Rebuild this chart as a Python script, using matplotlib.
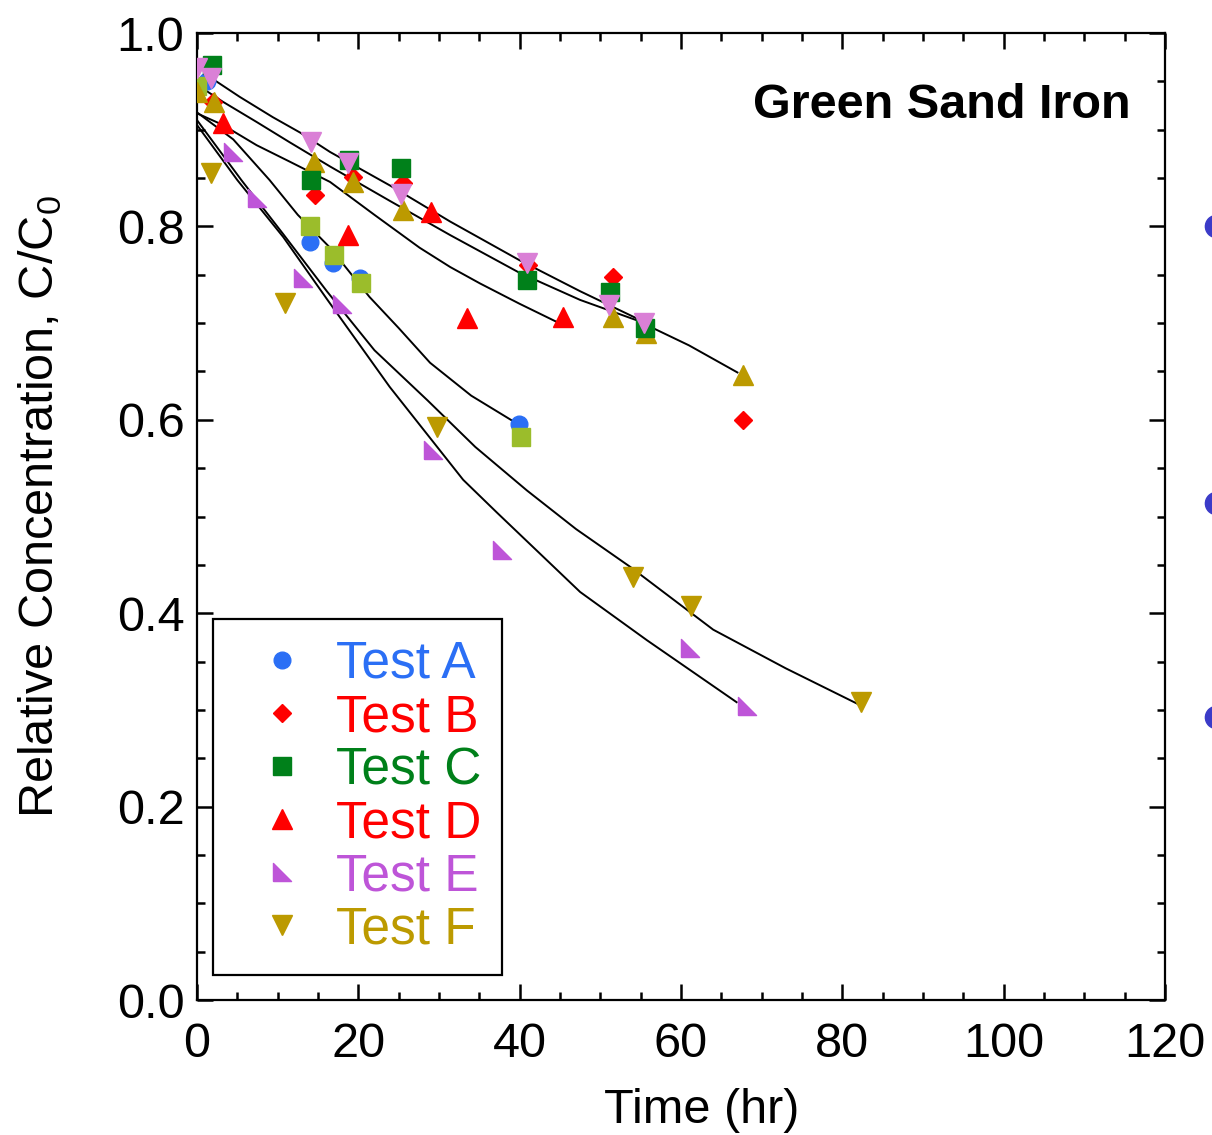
import numpy as np
import matplotlib
matplotlib.use('Agg')
import matplotlib.pyplot as plt
from matplotlib.ticker import MultipleLocator, FormatStrFormatter

plt.rcParams['font.family'] = ['Liberation Sans', 'DejaVu Sans']
plt.rcParams['mathtext.fontset'] = 'custom'
plt.rcParams['mathtext.rm'] = 'Liberation Sans'

# measured data, time (hr) vs C/C0
t_A = [1.2, 14.0, 16.9, 20.2, 39.9]
c_A = [0.950, 0.784, 0.762, 0.747, 0.596]
t_B = [2.0, 14.6, 19.3, 25.5, 41.0, 51.6, 55.6, 67.7]
c_B = [0.929, 0.832, 0.851, 0.845, 0.760, 0.748, 0.696, 0.600]
t_C = [1.9, 14.1, 18.8, 25.3, 40.9, 51.2, 55.5]
c_C = [0.967, 0.848, 0.869, 0.860, 0.745, 0.732, 0.695]
t_D = [3.2, 18.7, 29.0, 33.5, 45.4]
c_D = [0.907, 0.791, 0.815, 0.705, 0.706]
t_E = [4.5, 7.4, 13.1, 18.0, 29.3, 37.8, 61.1, 68.2]
c_E = [0.877, 0.829, 0.747, 0.720, 0.569, 0.465, 0.364, 0.304]
t_F = [1.7, 10.9, 29.7, 54.0, 61.2, 82.3]
c_F = [0.855, 0.721, 0.593, 0.437, 0.408, 0.308]

# replicate runs (no legend entry)
t_sq2 = [0.0, 14.0, 17.0, 20.3, 40.2]
c_sq2 = [0.945, 0.800, 0.770, 0.742, 0.582]
t_up2 = [0.0, 2.1, 14.5, 19.3, 25.5, 51.6, 55.7, 67.7]
c_up2 = [0.939, 0.929, 0.867, 0.846, 0.817, 0.706, 0.690, 0.646]
t_dn2 = [0.0, 1.7, 14.1, 18.7, 25.3, 40.9, 51.1, 55.4]
c_dn2 = [0.964, 0.953, 0.887, 0.866, 0.834, 0.762, 0.719, 0.700]

# points of the neighbouring panel that run past the right spine
t_edge = [126.3, 126.3, 126.3]
c_edge = [0.800, 0.514, 0.293]

# model curves
fit1_t = [1.5, 5.3, 9.4, 12.8, 16.5, 24.0, 31.4, 40.0, 47.5, 54.5]
fit1_c = [0.955, 0.934, 0.913, 0.897, 0.877, 0.842, 0.805, 0.765, 0.733, 0.705]
fit2_t = [1.2, 3.2, 7.4, 11.5, 16.5, 24.0, 31.4, 40.0, 47.5, 54.5, 61.0, 67.0]
fit2_c = [0.940, 0.929, 0.908, 0.887, 0.862, 0.826, 0.791, 0.752, 0.724, 0.703, 0.677, 0.649]
fitD_t = [0, 3.2, 7.4, 11.5, 16.5, 22.0, 27.6, 31.4, 35.1, 40.0, 45.4]
fitD_c = [0.917, 0.905, 0.884, 0.867, 0.846, 0.812, 0.778, 0.758, 0.741, 0.720, 0.698]
fitA_t = [0, 4.5, 9.0, 12.5, 16.5, 21.4, 25.0, 28.9, 34.0, 39.9]
fitA_c = [0.918, 0.890, 0.848, 0.812, 0.778, 0.727, 0.695, 0.659, 0.625, 0.595]
fitE_t = [0, 5.0, 10.7, 16.1, 23.9, 33.0, 37.2, 47.5, 55.8, 66.9]
fitE_c = [0.905, 0.848, 0.789, 0.725, 0.634, 0.538, 0.504, 0.422, 0.372, 0.308]
fitF_t = [0, 5.5, 10.7, 16.1, 22.0, 28.6, 34.5, 40.9, 47.0, 53.7, 64.0, 73.0, 82.2]
fitF_c = [0.910, 0.848, 0.792, 0.733, 0.672, 0.620, 0.572, 0.527, 0.487, 0.448, 0.383, 0.343, 0.305]

col_A = '#2B6FF5'
col_B = '#FF0000'
col_C = '#00801A'
col_D = '#FF0000'
col_E = '#BE55D8'
col_F = '#BC9A00'
col_sq2 = '#9BBD2B'
col_dn2 = '#DA80D6'
col_edge = '#3B3BC8'

rtri = [(-1, -1), (1, -1), (-1, 1), (-1, -1)]

fig = plt.figure(figsize=(12.12, 11.35), dpi=100)
ax = fig.add_axes([0.1625, 0.1189, 0.7987, 0.852])

for ft, fc in [(fit1_t, fit1_c), (fit2_t, fit2_c), (fitD_t, fitD_c),
               (fitA_t, fitA_c), (fitE_t, fitE_c), (fitF_t, fitF_c)]:
    ax.plot(ft, fc, color='k', lw=1.4, zorder=2)

hA, = ax.plot(t_A, c_A, 'o', ms=12, color=col_A, mec=col_A, label='Test A', zorder=3)
ax.plot(t_sq2, c_sq2, 's', ms=13, color=col_sq2, mec=col_sq2, zorder=3)
hB, = ax.plot(t_B, c_B, 'D', ms=9.5, color=col_B, mec=col_B, label='Test B', zorder=3)
ax.plot(t_up2, c_up2, '^', ms=14, color=col_F, mec=col_F, zorder=3)
hC, = ax.plot(t_C, c_C, 's', ms=13, color=col_C, mec=col_C, label='Test C', zorder=3)
ax.plot(t_dn2, c_dn2, 'v', ms=14, color=col_dn2, mec=col_dn2, zorder=3)
hD, = ax.plot(t_D, c_D, '^', ms=14, color=col_D, mec=col_D, label='Test D', zorder=3)
hE, = ax.plot(t_E, c_E, marker=rtri, ls='none', ms=13, color=col_E, mec=col_E, label='Test E', zorder=3)
hF, = ax.plot(t_F, c_F, 'v', ms=14, color=col_F, mec=col_F, label='Test F', zorder=3)
ax.plot(t_edge, c_edge, 'o', ms=16, color=col_edge, clip_on=False, zorder=3)

ax.set_xlim(0, 120)
ax.set_ylim(0, 1.0)
ax.xaxis.set_major_locator(MultipleLocator(20))
ax.xaxis.set_minor_locator(MultipleLocator(5))
ax.yaxis.set_major_locator(MultipleLocator(0.2))
ax.yaxis.set_minor_locator(MultipleLocator(0.05))
ax.yaxis.set_major_formatter(FormatStrFormatter('%.1f'))
ax.tick_params(which='both', direction='in', top=True, right=True, width=1.8,
               labelsize=35)
ax.tick_params(which='major', length=11.5)
ax.tick_params(which='minor', length=5.5)
ax.tick_params(axis='x', which='major', pad=16)
ax.tick_params(axis='y', which='major', pad=9)
for s in ax.spines.values():
    s.set_linewidth(1.6)

ax.set_xlabel('Time (hr)', fontsize=35, labelpad=15)
ax.set_ylabel(r'Relative Concentration, C/C$_\mathrm{0}$', fontsize=35, labelpad=38)
ax.xaxis.label.set_x(0.521)
ax.yaxis.label.set_y(0.51)

ax.text(0.964, 0.925, 'Green Sand Iron', transform=ax.transAxes, ha='right',
        va='center', fontsize=35, fontweight='bold')

handles = [hA, hB, hC, hD, hE, hF]
leg = ax.legend(handles=handles, loc='lower left', bbox_to_anchor=(0.0165, 0.0259),
                fontsize=37, numpoints=1, frameon=True, fancybox=False,
                edgecolor='k', framealpha=1, borderpad=0.4, labelspacing=0.08,
                handlelength=1.9, handletextpad=0.1, borderaxespad=0,
                labelcolor=[col_A, col_B, col_C, col_D, col_E, col_F])
leg.get_frame().set_linewidth(1.6)
leg.set_zorder(5)

fig.savefig('out.png', dpi=100)
